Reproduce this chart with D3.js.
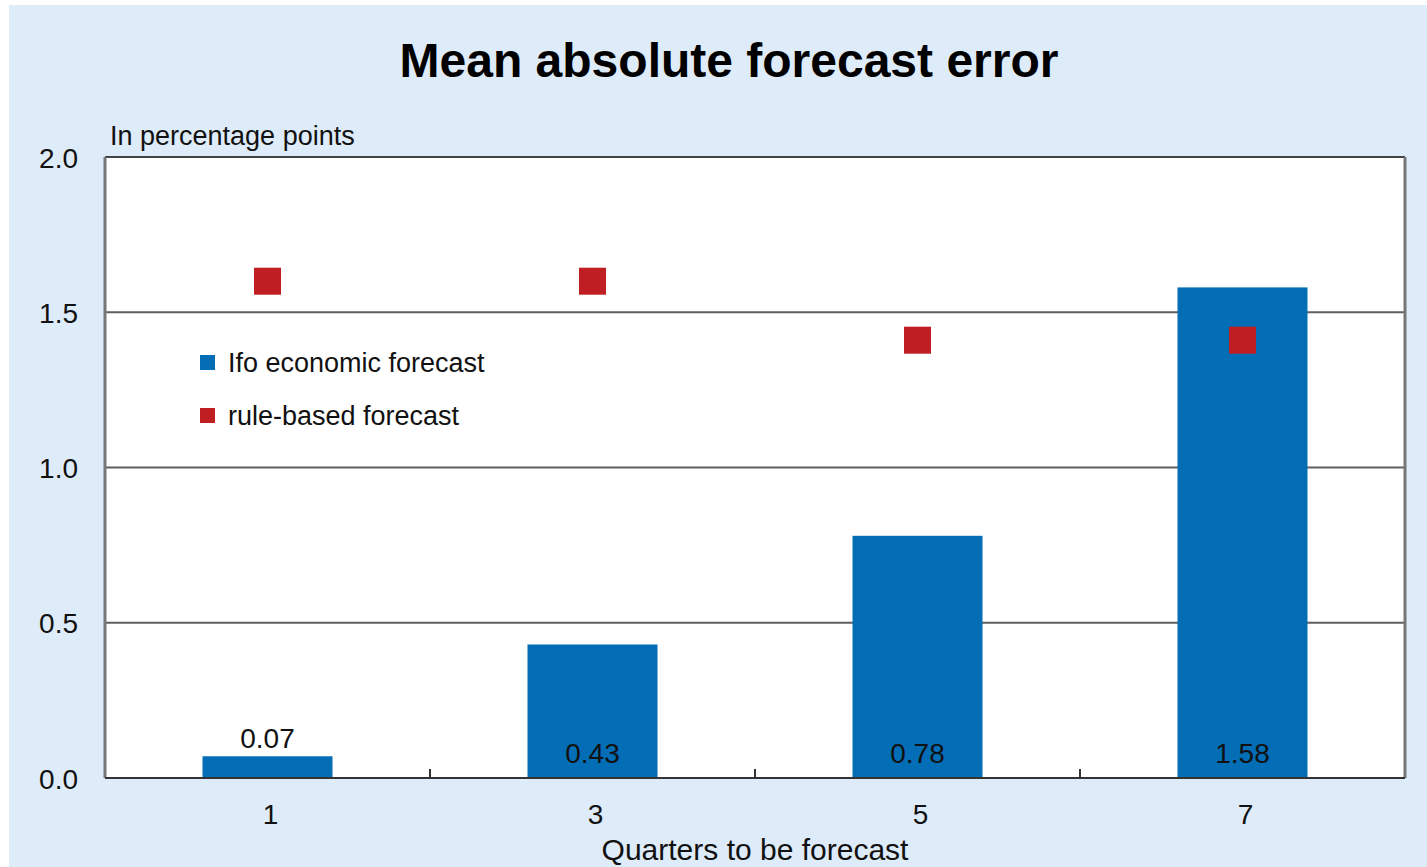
<!DOCTYPE html>
<html>
<head>
<meta charset="utf-8">
<script src="https://cdn.jsdelivr.net/npm/d3@7"></script>
<style>
  html, body { margin: 0; padding: 0; background: #ffffff; }
  svg { display: block; font-family: "Liberation Sans", Arial, sans-serif; }
</style>
</head>
<body>
<svg id="chart" width="1427" height="867"></svg>
<script>
// Forecast horizon categories (quarters ahead)
const quarters = ["1", "3", "5", "7"];
// Mean absolute error of the Ifo economic forecast, percentage points
const ifoForecast = [0.07, 0.43, 0.78, 1.58];
// Mean absolute error of the rule-based forecast, percentage points
const ruleBased = [1.6, 1.6, 1.41, 1.41];
const yTicks = [0, 0.5, 1.0, 1.5, 2.0];
const seriesNames = ["Ifo economic forecast", "rule-based forecast"];

const svg = d3.select("#chart");
const W = 1427, H = 867;
const margin = { left: 105, right: 22, top: 157, bottom: 89 };
const plotW = W - margin.left - margin.right;
const plotH = H - margin.top - margin.bottom;
const blue = "#036db5", red = "#bf1e22";

// Light blue panel background
svg.append("rect").attr("x", 9).attr("y", 5).attr("width", W - 9).attr("height", H - 5)
  .attr("fill", "#deebf8");

svg.append("text").attr("x", 729).attr("y", 77).attr("text-anchor", "middle")
  .attr("font-size", 48).attr("font-weight", "bold").attr("fill", "#000")
  .text("Mean absolute forecast error");

const g = svg.append("g").attr("transform", `translate(${margin.left},${margin.top})`);

const x = d3.scaleBand().domain(quarters).range([0, plotW]).paddingInner(0).paddingOuter(0);
const y = d3.scaleLinear().domain([0, 2]).range([plotH, 0]);
const barW = x.bandwidth() * 0.4;

// Plot area
g.append("rect").attr("width", plotW).attr("height", plotH).attr("fill", "#fff");

// Horizontal gridlines
g.selectAll("line.grid").data(yTicks.filter(d => d > 0 && d < 2)).join("line")
  .attr("class", "grid")
  .attr("x1", 0).attr("x2", plotW)
  .attr("y1", d => y(d)).attr("y2", d => y(d))
  .attr("stroke", "#5e5e5e").attr("stroke-width", 2);

// Bars
g.selectAll("rect.bar").data(ifoForecast).join("rect")
  .attr("class", "bar")
  .attr("x", (d, i) => x(quarters[i]) + (x.bandwidth() - barW) / 2)
  .attr("y", d => y(d))
  .attr("width", barW)
  .attr("height", d => y(0) - y(d))
  .attr("fill", blue);

// Rule-based markers
const sq = 27;
g.selectAll("rect.rule").data(ruleBased).join("rect")
  .attr("class", "rule")
  .attr("x", (d, i) => x(quarters[i]) + x.bandwidth() / 2 - sq / 2)
  .attr("y", d => y(d) - sq / 2)
  .attr("width", sq).attr("height", sq)
  .attr("fill", red);

// Value labels: above small bars, inside tall ones
g.selectAll("text.val").data(ifoForecast).join("text")
  .attr("class", "val")
  .attr("x", (d, i) => x(quarters[i]) + x.bandwidth() / 2)
  .attr("y", d => (y(0) - y(d) < 40) ? y(d) - 8 : y(0) - 15)
  .attr("text-anchor", "middle").attr("font-size", 28).attr("fill", "#111")
  .text(d => d.toFixed(2));

// Frame: top, right and left borders
g.append("line").attr("x1", 0).attr("x2", plotW).attr("y1", 0).attr("y2", 0)
  .attr("stroke", "#444").attr("stroke-width", 2);
g.append("line").attr("x1", plotW).attr("x2", plotW).attr("y1", 0).attr("y2", plotH)
  .attr("stroke", "#777").attr("stroke-width", 3);
g.append("line").attr("x1", 0).attr("x2", 0).attr("y1", 0).attr("y2", plotH)
  .attr("stroke", "#777").attr("stroke-width", 3);

// Bottom axis with separators between categories
const xAxis = g.append("g").attr("transform", `translate(0,${plotH})`);
xAxis.append("line").attr("x1", 0).attr("x2", plotW).attr("stroke", "#333").attr("stroke-width", 2);
xAxis.selectAll("line.sep").data(quarters.slice(1)).join("line")
  .attr("class", "sep")
  .attr("x1", d => x(d)).attr("x2", d => x(d))
  .attr("y1", 0).attr("y2", -9)
  .attr("stroke", "#333").attr("stroke-width", 2);
xAxis.selectAll("text").data(quarters).join("text")
  .attr("x", d => x(d) + x.bandwidth() / 2 + 3)
  .attr("y", 46).attr("text-anchor", "middle")
  .attr("font-size", 28).attr("fill", "#111").text(d => d);

// Left axis labels
const yAxis = d3.axisLeft(y).tickValues(yTicks).tickFormat(d3.format(".1f")).tickSize(0).tickPadding(27);
g.append("g").call(yAxis)
  .call(s => s.select(".domain").remove())
  .call(s => s.selectAll("text").attr("font-size", 28).attr("fill", "#111")
    .attr("font-family", "Liberation Sans, Arial, sans-serif").attr("dy", "0.36em"));

// Axis titles
svg.append("text").attr("x", 110).attr("y", 145).attr("font-size", 27).attr("fill", "#111")
  .text("In percentage points");
svg.append("text").attr("x", 755).attr("y", 860).attr("text-anchor", "middle")
  .attr("font-size", 30).attr("fill", "#111").text("Quarters to be forecast");

// Legend
const legend = svg.append("g").attr("transform", "translate(200,362)");
[blue, red].forEach((c, i) => {
  const row = legend.append("g").attr("transform", `translate(0,${i * 53})`);
  row.append("rect").attr("x", 0).attr("y", -7).attr("width", 15).attr("height", 15).attr("fill", c);
  row.append("text").attr("x", 28).attr("y", 10).attr("font-size", 27).attr("fill", "#111").text(seriesNames[i]);
});
</script>
</body>
</html>
